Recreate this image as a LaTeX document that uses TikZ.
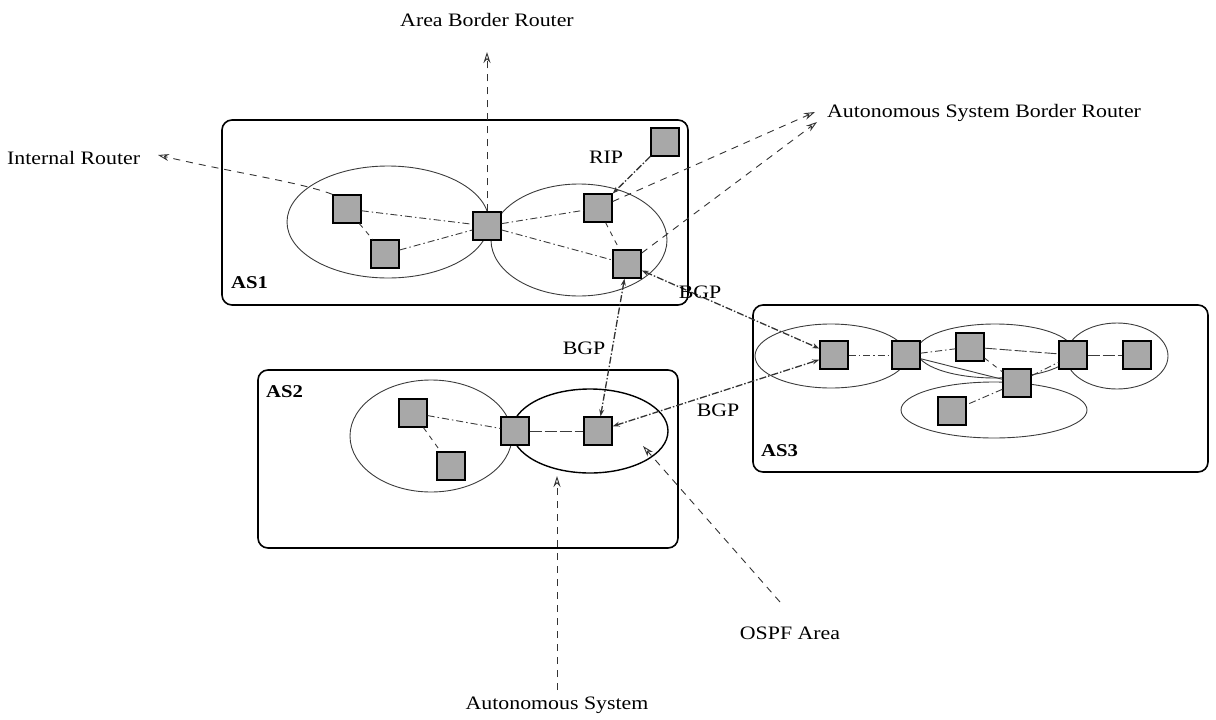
\documentclass[tikz,border=0pt]{standalone}
\usepackage{fontspec}
\setmainfont{Liberation Serif}
\newfontfamily\labelfont[FakeStretch=1.15]{Liberation Serif}
\usetikzlibrary{arrows.meta}
\definecolor{routergray}{RGB}{168,168,168}
\definecolor{inkgray}{RGB}{60,60,60}
\tikzset{
  router/.style={draw=black, fill=routergray, minimum size=28pt, inner sep=0pt, line width=1.4pt},
  asbox/.style={draw=black, line width=1.6pt, rounded corners=10pt},
  area/.style={draw=inkgray, line width=0.9pt},
  bigarea/.style={draw=black, line width=1.4pt},
  dashdot/.style={draw=inkgray, line width=0.9pt, dash pattern=on 7pt off 3pt on 1.5pt off 3pt},
  shortdash/.style={draw=inkgray, line width=0.9pt, dash pattern=on 5pt off 5pt},
  longdash/.style={draw=inkgray, line width=0.9pt, dash pattern=on 12pt off 3pt},
  bgp/.style={draw=black!80, line width=1.3pt, dash pattern=on 7pt off 2pt on 1.5pt off 2pt, {Stealth[length=7pt,width=5pt]}-{Stealth[length=7pt,width=5pt]}},
  rip/.style={draw=black!80, line width=1.3pt, dash pattern=on 7pt off 2pt on 1.5pt off 2pt, -{Stealth[length=7pt,width=5pt]}},
  callout/.style={draw=black!80, line width=0.9pt, dash pattern=on 7pt off 6pt, -{Stealth[open,length=11pt,width=7pt]}},
  lbl/.style={font=\labelfont\fontsize{19}{22}\selectfont, inner sep=1pt},
  aslbl/.style={font=\labelfont\fontsize{18}{22}\selectfont\bfseries, inner sep=1pt}
}
\begin{document}
\begin{tikzpicture}[x=1pt, y=-1pt]
\useasboundingbox (0,0) rectangle (1216,720);

% autonomous system boxes
\draw[asbox] (222,120) rectangle (688,305);
\draw[asbox] (258,370) rectangle (678,548);
\draw[asbox] (753,305) rectangle (1208,472);
\node[aslbl, anchor=west] (as1) at (230,283) {AS1};
\node[aslbl, anchor=west] (as2) at (265,392) {AS2};
\node[aslbl, anchor=west] (as3) at (760,451) {AS3};

% OSPF areas
\draw[area] (388,222) ellipse [x radius=101, y radius=56];
\draw[area] (579,240) ellipse [x radius=88, y radius=56];
\draw[area] (431,436) ellipse [x radius=81, y radius=56];
\draw[bigarea] (590,431) ellipse [x radius=78, y radius=42];
\draw[area] (831,356) ellipse [x radius=76, y radius=32];
\draw[area] (995,351) ellipse [x radius=78, y radius=27];
\draw[area] (1117,356) ellipse [x radius=51, y radius=33];
\draw[area] (994,410) ellipse [x radius=93, y radius=28];

% AS1 routers
\node[router] (a1) at (347,209) {};
\node[router] (a2) at (385,254) {};
\node[router] (abr) at (487,226) {};
\node[router] (a4) at (598,208) {};
\node[router] (a5) at (627,264) {};
\node[router] (arip) at (665,142) {};

% AS2 routers
\node[router] (b1) at (413,413) {};
\node[router] (b2) at (451,466) {};
\node[router] (babr) at (515,431) {};
\node[router] (b4) at (598,431) {};

% AS3 routers
\node[router] (c1) at (834,355) {};
\node[router] (c2) at (906,355) {};
\node[router] (c3) at (970,347) {};
\node[router] (c4) at (1073,355) {};
\node[router] (c5) at (1137,355) {};
\node[router] (c6) at (1017,383) {};
\node[router] (c7) at (952,411) {};

% links inside AS1
\draw[dashdot] (a1) -- (abr);
\draw[dashdot] (a2) -- (abr);
\draw[shortdash] (a1) -- (a2);
\draw[dashdot] (abr) -- (a4);
\draw[dashdot] (abr) -- (a5);
\draw[shortdash] (a4) -- (a5);
\draw[rip] (arip) -- (a4);
\node[lbl] (riplbl) at (606,157) {RIP};

% links inside AS2
\draw[dashdot] (b1) -- (babr);
\draw[shortdash] (b1) -- (b2);
\draw[longdash] (babr) -- (b4);

% links inside AS3
\draw[dashdot] (c1) -- (c2);
\draw[dashdot] (c2) -- (c3);
\draw[longdash] (c3) -- (c4);
\draw[longdash] (c4) -- (c5);
\draw[draw=inkgray, line width=0.9pt] (c2) -- (c6);
\draw[dashdot] (c6) -- (c4);
\draw[shortdash] (c3) -- (c6);
\draw[dashdot] (c6) -- (c7);

% BGP sessions between systems
\draw[bgp] (a5) -- (c1);
\draw[bgp] (a5) -- (b4);
\draw[bgp] (b4) -- (c1);
\node[lbl] (bgp1) at (700,292) {BGP};
\node[lbl] (bgp2) at (584,348) {BGP};
\node[lbl] (bgp3) at (718,410) {BGP};

% callouts
\node[lbl] (tabr) at (487,20) {Area Border Router};
\coordinate (tabrtip) at (487,52);
\draw[callout] (abr.north) -- (tabrtip);

\node[lbl, anchor=west] (tint) at (6,158) {Internal Router};
\coordinate (tinttip) at (158,155);
\draw[callout] (a1.north west) .. controls (300,182) and (230,172) .. (tinttip);

\node[lbl, anchor=west] (tasbr) at (826,113) {Autonomous System Border Router};
\coordinate (tasbr1) at (815,112);
\coordinate (tasbr2) at (817,122);
\draw[callout] (a4) -- (tasbr1);
\draw[callout] (a5) -- (tasbr2);

\node[lbl] (tas) at (557,705) {Autonomous System};
\coordinate (tasfoot) at (557,690);
\coordinate (tastip) at (557,476);
\draw[callout] (tasfoot) -- (tastip);

\node[lbl] (tospf) at (790,633) {OSPF Area};
\coordinate (tospffoot) at (780,602);
\coordinate (tospftip) at (643,446);
\draw[callout] (tospffoot) -- (tospftip);
\end{tikzpicture}
\end{document}
